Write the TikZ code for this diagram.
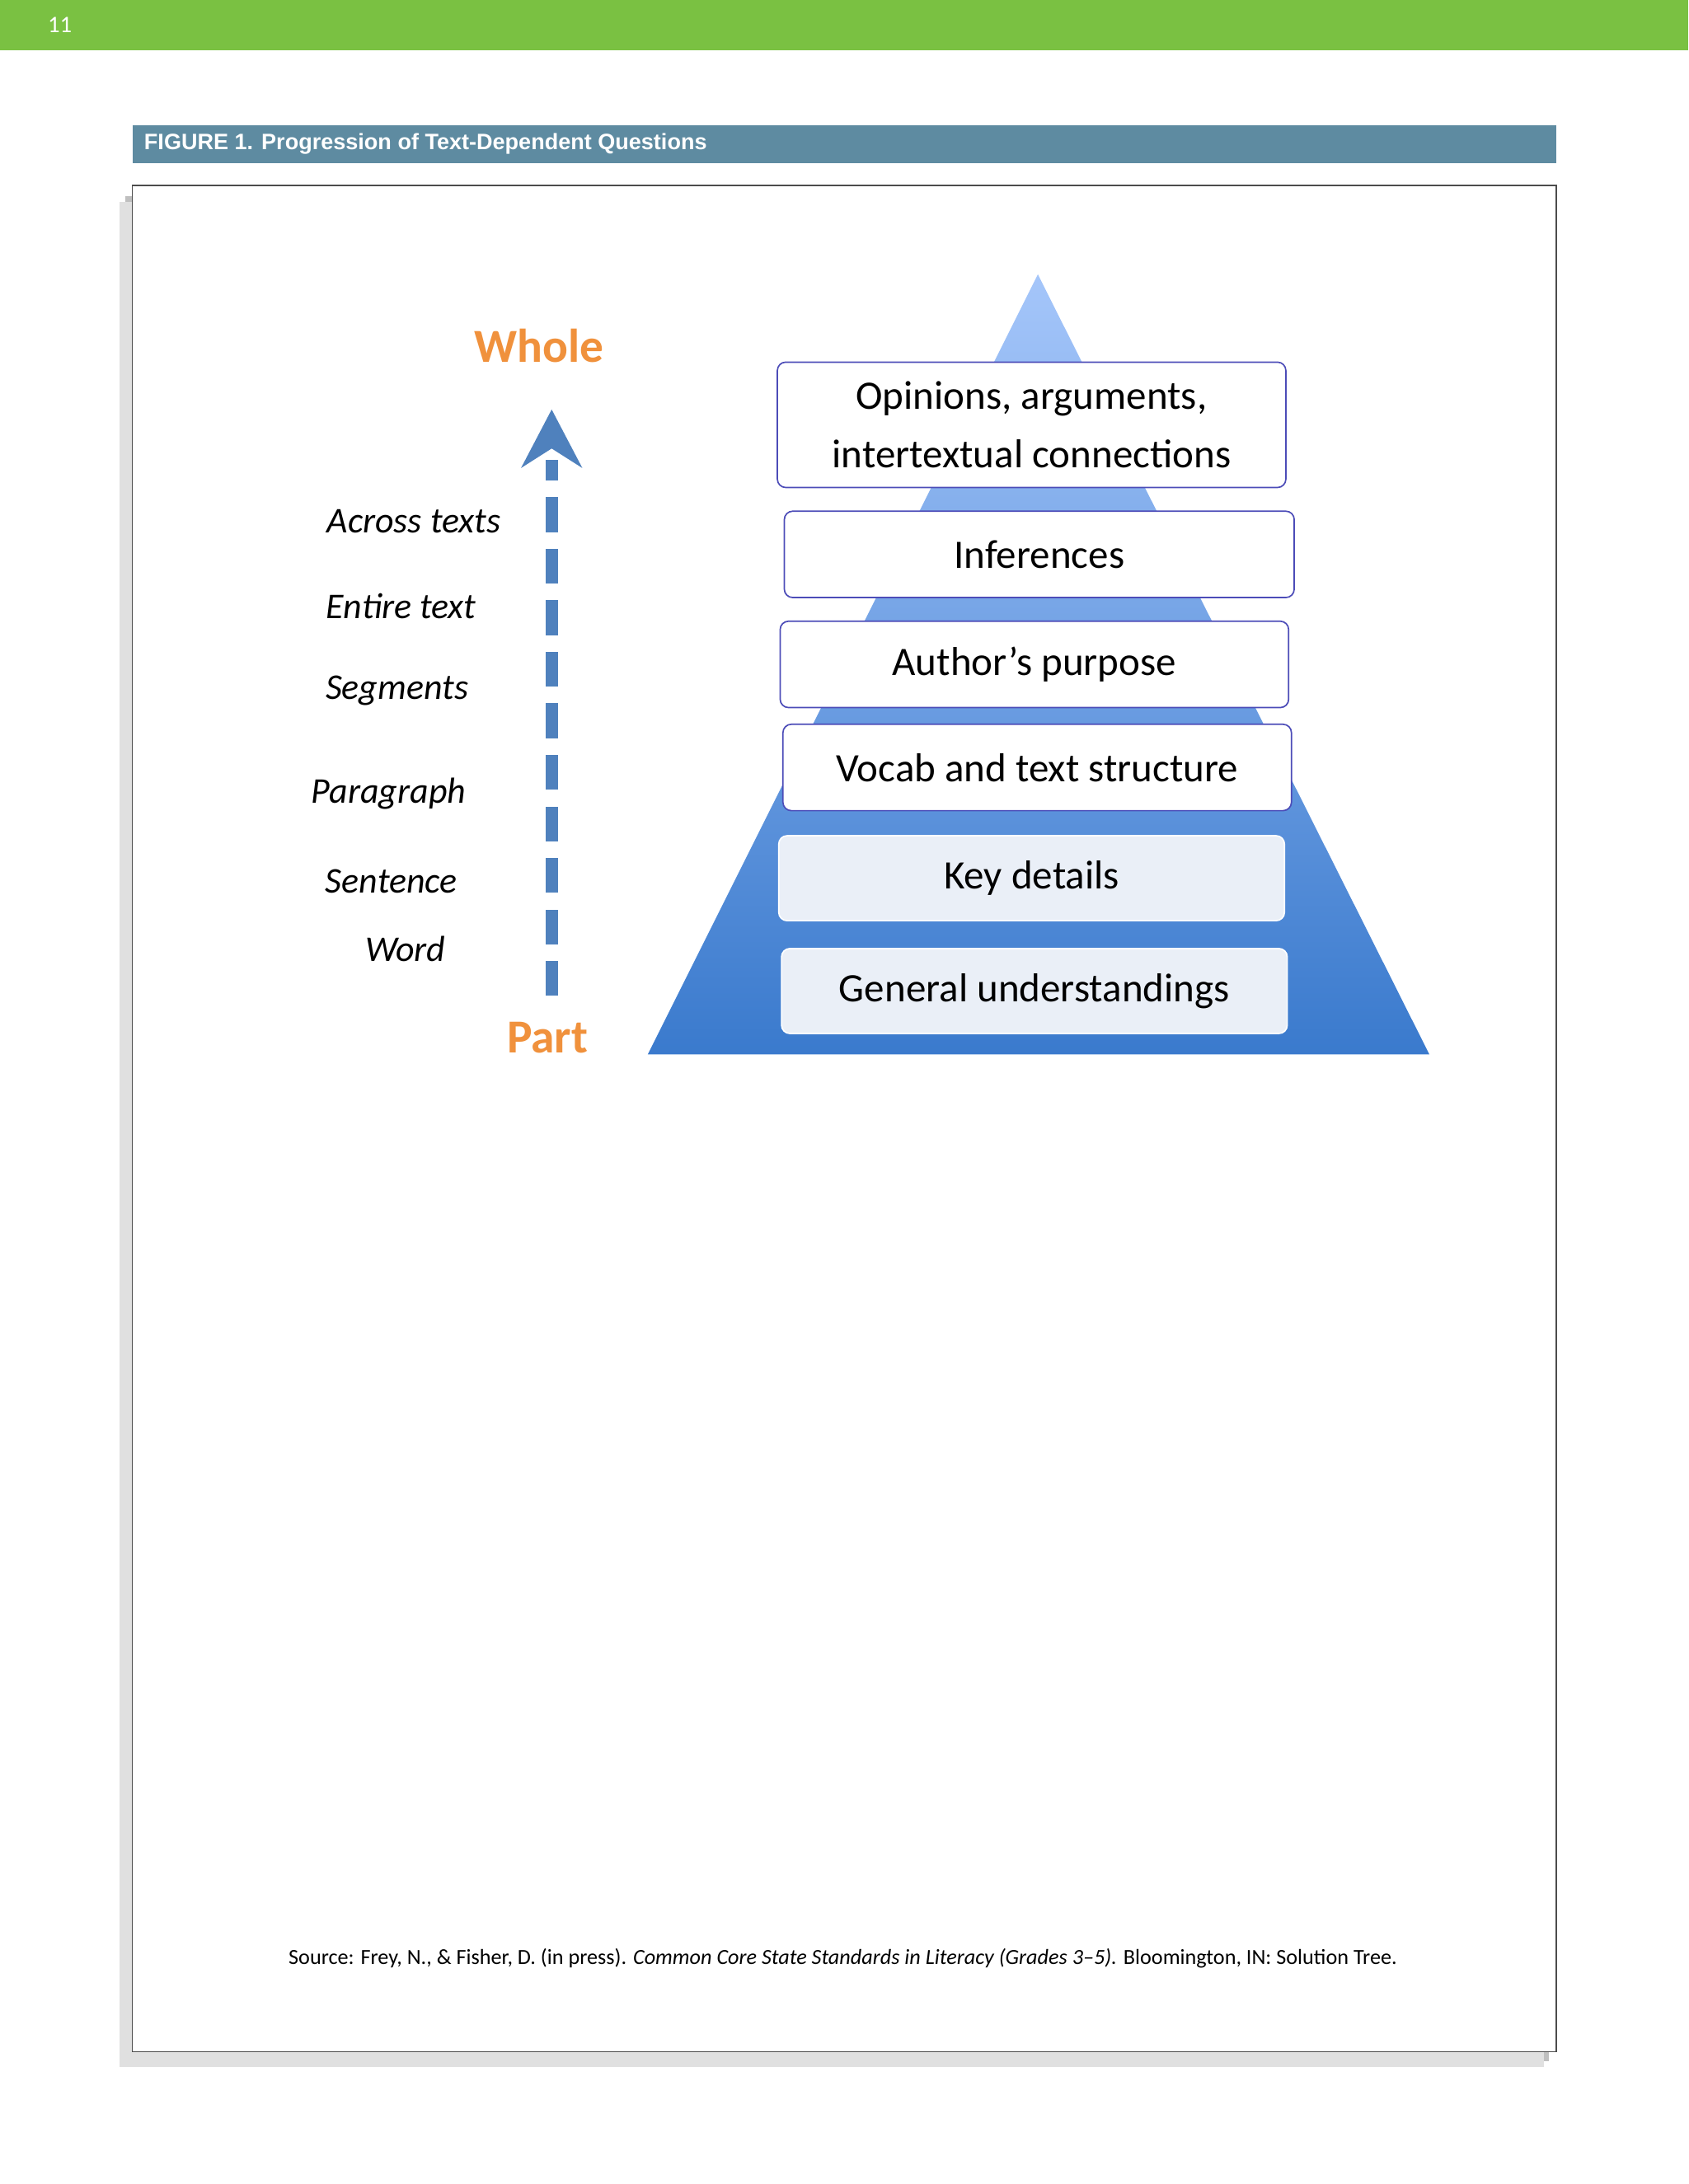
\documentclass[tikz,border=0pt]{standalone}
\usepackage{fontspec}
\setmainfont{Carlito}
\newfontfamily\titlefont{Liberation Sans}
\begin{document}
\begin{tikzpicture}[x=1pt,y=-1pt,
  lvl/.style={draw=blue!60!black!70, fill=white, rounded corners=6pt, line width=1pt, font=\fontsize{29}{36}\selectfont, align=center, inner sep=0pt},
  lvlsoft/.style={lvl, draw=white, fill={rgb,255:red,234;green,239;blue,247}},
  side/.style={font=\fontsize{26}{30}\selectfont\itshape},
  end/.style={font=\fontsize{34}{40}\selectfont\bfseries, text=orange1}]
\definecolor{green1}{RGB}{122,193,66}
\definecolor{steel}{RGB}{94,139,161}
\definecolor{orange1}{RGB}{240,145,60}
\definecolor{arrowb}{RGB}{79,129,189}
\definecolor{pyrd}{RGB}{58,122,205}
\definecolor{pyrl}{RGB}{165,198,250}
\fill[white] (0,0) rectangle (1212,1568);
\fill[green1] (0,0) rectangle (1212,36);
\node[text=white, font=\fontsize{17}{20}\selectfont] (pg) at (43,18) {11};
\fill[steel] (95,90) rectangle (1117,117);
\node[text=white, anchor=west, font=\titlefont\fontsize{16}{18}\selectfont\bfseries] (ttl) at (100,103) {FIGURE 1. Progression of Text-Dependent Questions};
% frame with shadow
\fill[black!25] (90,141) rectangle (1112,1480);
\fill[black!12] (86,145) rectangle (1108,1484);
\draw[black!70, fill=white, line width=1pt] (95,133) rectangle (1117,1473);
% pyramid
\shade[top color=pyrl, bottom color=pyrd] (745,197) -- (1026,757) -- (465,757) -- cycle;
\node[lvl, minimum width=365pt, minimum height=90pt] (b1) at (740.5,305) {Opinions, arguments,\\[6pt]intertextual connections};
\node[lvl, minimum width=366pt, minimum height=62pt] (b2) at (746,398) {Inferences};
\node[lvl, minimum width=365pt, minimum height=62pt] (b3) at (742.5,477) {Author’s purpose};
\node[lvl, minimum width=365pt, minimum height=62pt] (b4) at (744.5,551) {Vocab and text structure};
\node[lvlsoft, minimum width=363pt, minimum height=61pt] (b5) at (740.5,630.5) {Key details};
\node[lvlsoft, minimum width=363pt, minimum height=61pt] (b6) at (742.5,711.5) {General understandings};
% arrow
\coordinate (abot) at (396,715);
\coordinate (atop) at (396,330);
\draw[arrowb, line width=9pt, dash pattern=on 25pt off 12pt] (abot) -- (atop);
\fill[arrowb] (396,294) -- (418,336) -- (396,322) -- (374,336) -- cycle;
\node[end] (whole) at (387,248) {Whole};
\node[end] (part) at (393,745) {Part};
\node[side] (l1) at (297,374) {Across texts};
\node[side] (l2) at (288,435) {Entire text};
\node[side] (l3) at (285,496) {Segments};
\node[side] (l4) at (279,570) {Paragraph};
\node[side] (l5) at (281,633) {Sentence};
\node[side] (l6) at (291,681) {Word};
\node[font=\fontsize{15.5}{18}\selectfont] (src) at (605,1406) {Source: Frey, N., \& Fisher, D. (in press). \textit{Common Core State Standards in Literacy (Grades 3–5).} Bloomington, IN: Solution Tree.};
\end{tikzpicture}
\end{document}
